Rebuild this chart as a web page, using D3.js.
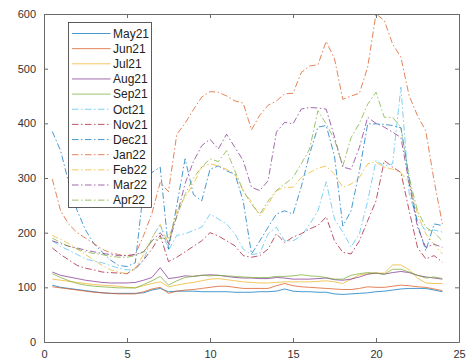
<!DOCTYPE html>
<html>
<head>
<meta charset="utf-8">
<script src="https://cdn.jsdelivr.net/npm/d3@7"></script>
<style>
  body { margin: 0; background: #fff; }
  svg { display: block; font-family: "Liberation Sans", Arial, sans-serif; }
</style>
</head>
<body>
<div id="chart"></div>
<script>
// half-hour readings, x = 0.5 .. 24
const hours = [0.5, 1, 1.5, 2, 2.5, 3, 3.5, 4, 4.5, 5, 5.5, 6, 6.5, 7, 7.5, 8,
  8.5, 9, 9.5, 10, 10.5, 11, 11.5, 12, 12.5, 13, 13.5, 14, 14.5, 15, 15.5, 16,
  16.5, 17, 17.5, 18, 18.5, 19, 19.5, 20, 20.5, 21, 21.5, 22, 22.5, 23, 23.5, 24];

const months = ["May21", "Jun21", "Jul21", "Aug21", "Sep21", "Oct21",
  "Nov21", "Dec21", "Jan22", "Feb22", "Mar22", "Apr22"];

const may21 = [104, 100, 98, 96, 94, 92, 90, 89, 89, 89, 89, 90, 95, 98, 92, 93,
  93, 93, 92, 92, 92, 92, 91, 91, 91, 92, 92, 93, 97, 93, 92, 92,
  91, 91, 88, 87, 88, 89, 90, 92, 93, 95, 97, 98, 98, 98, 95, 92];
const jun21 = [101, 99, 97, 95, 93, 91, 90, 89, 88, 88, 88, 92, 97, 100, 89, 93,
  95, 96, 98, 100, 102, 102, 100, 98, 98, 98, 98, 103, 107, 103, 101, 100,
  99, 98, 97, 96, 96, 98, 101, 100, 100, 102, 104, 103, 101, 100, 97, 94];
const jul21 = [115, 113, 111, 109, 107, 105, 104, 103, 102, 100, 99, 103, 107, 110, 101, 104,
  107, 109, 112, 115, 116, 114, 112, 110, 109, 108, 108, 109, 110, 110, 110, 110,
  111, 112, 110, 107, 115, 123, 125, 126, 126, 141, 141, 132, 117, 108, 107, 107];
const aug21 = [128, 122, 119, 116, 113, 111, 109, 108, 108, 108, 109, 113, 118, 136, 116, 118,
  121, 120, 122, 123, 122, 120, 118, 117, 117, 116, 116, 118, 117, 115, 115, 115,
  116, 117, 114, 113, 115, 119, 124, 126, 124, 127, 129, 127, 122, 119, 117, 115];
const sep21 = [125, 118, 112, 107, 104, 102, 101, 100, 99, 99, 99, 105, 112, 120, 104, 112,
  118, 120, 122, 121, 122, 121, 120, 119, 118, 118, 118, 120, 120, 121, 123, 121,
  120, 118, 115, 115, 122, 125, 127, 126, 124, 133, 133, 128, 122, 117, 119, 116];
const oct21 = [185, 175, 168, 160, 152, 148, 145, 140, 135, 132, 132, 150, 190, 215, 168, 195,
  198, 204, 210, 234, 225, 216, 198, 170, 160, 162, 198, 210, 185, 185, 194, 215,
  240, 293, 225, 201, 174, 198, 258, 332, 322, 326, 466, 271, 222, 204, 205, 201];
const nov21 = [172, 160, 150, 140, 135, 132, 128, 127, 126, 125, 135, 150, 170, 195, 147, 155,
  165, 175, 185, 200, 194, 185, 176, 158, 155, 158, 170, 198, 182, 192, 198, 207,
  213, 229, 185, 164, 161, 185, 222, 258, 332, 320, 310, 240, 173, 152, 158, 146];
const dec21 = [385, 350, 290, 240, 205, 180, 165, 150, 140, 138, 145, 280, 310, 320, 170, 250,
  335, 270, 258, 316, 322, 313, 307, 258, 161, 185, 210, 234, 240, 234, 284, 344,
  393, 396, 340, 212, 240, 313, 399, 399, 398, 396, 392, 300, 215, 167, 216, 213];
const jan22 = [298, 240, 215, 200, 190, 180, 170, 163, 160, 158, 160, 195, 235, 292, 275, 380,
  400, 425, 448, 458, 457, 450, 441, 437, 388, 415, 433, 441, 454, 455, 493, 505,
  507, 550, 518, 444, 450, 455, 503, 600, 588, 545, 521, 450, 414, 386, 295, 216];
const feb22 = [195, 188, 180, 170, 160, 150, 140, 132, 128, 125, 135, 160, 190, 215, 180, 240,
  265, 289, 320, 326, 322, 316, 307, 277, 256, 231, 252, 277, 283, 283, 301, 310,
  318, 322, 307, 283, 289, 301, 326, 329, 320, 316, 310, 290, 234, 198, 179, 161];
const mar22 = [185, 180, 175, 172, 168, 165, 162, 160, 158, 158, 160, 165, 185, 200, 180, 230,
  290, 330, 359, 371, 353, 380, 356, 332, 283, 277, 295, 384, 402, 399, 426, 429,
  428, 426, 375, 320, 316, 356, 411, 400, 393, 384, 374, 290, 210, 173, 179, 173];
const apr22 = [190, 182, 175, 170, 165, 162, 160, 157, 155, 155, 158, 165, 185, 190, 190, 230,
  270, 300, 320, 335, 330, 350, 313, 277, 252, 234, 258, 277, 289, 301, 326, 353,
  423, 399, 370, 322, 374, 400, 435, 457, 411, 411, 393, 300, 240, 210, 200, 185];

const xTicks = [0, 5, 10, 15, 20, 25];
const yTicks = [0, 100, 200, 300, 400, 500, 600];

const seriesValues = [may21, jun21, jul21, aug21, sep21, oct21,
  nov21, dec21, jan22, feb22, mar22, apr22];
const colors = ["#0072BD", "#D95319", "#EDB120", "#7E2F8E", "#77AC30", "#4DBEEE",
  "#A2142F", "#0072BD", "#D95319", "#EDB120", "#7E2F8E", "#77AC30"];
const dashDot = "6.5,2.5,1.5,2.5";

const W = 473, H = 364;
const margin = {top: 14, right: 14, bottom: 22, left: 44};
const width = W - margin.left - margin.right;
const height = H - margin.top - margin.bottom;

const svg = d3.select("#chart").append("svg")
  .attr("width", W)
  .attr("height", H);

const x = d3.scaleLinear().domain([0, 25]).range([0, width]);
const y = d3.scaleLinear().domain([0, 600]).range([height, 0]);

const g = svg.append("g")
  .attr("transform", `translate(${margin.left},${margin.top})`);

// lines
const line = d3.line()
  .x((d, i) => x(hours[i]))
  .y(d => y(d));

const data = months.map((m, i) => ({name: m, values: seriesValues[i], color: colors[i], dashed: i >= 5}));

g.selectAll(".series")
  .data(data)
  .enter().append("path")
  .attr("class", "series")
  .attr("d", d => line(d.values))
  .attr("fill", "none")
  .attr("stroke", d => d.color)
  .attr("stroke-width", 1)
  .attr("stroke-opacity", 0.72)
  .attr("stroke-dasharray", d => d.dashed ? dashDot : null);

// axes, matlab style box with inward ticks
const axisColor = "#6b6b6b";
const tickLen = 4;

function styleAxis(sel) {
  sel.select(".domain").attr("stroke", axisColor);
  sel.selectAll(".tick line").attr("stroke", axisColor);
  sel.selectAll(".tick text").attr("fill", "#333").style("font-size", "11px")
    .style("font-family", '"Liberation Sans", Arial, sans-serif');
}

g.append("g")
  .attr("transform", `translate(0,${height})`)
  .call(d3.axisBottom(x).tickValues(xTicks).tickSizeInner(-tickLen).tickSizeOuter(0).tickPadding(8))
  .call(styleAxis);

g.append("g")
  .call(d3.axisLeft(y).tickValues(yTicks).tickSizeInner(-tickLen).tickSizeOuter(0).tickPadding(8))
  .call(styleAxis);

g.append("g")
  .call(d3.axisTop(x).tickValues(xTicks).tickSizeInner(-tickLen).tickSizeOuter(0).tickFormat(""))
  .call(styleAxis);

g.append("g")
  .attr("transform", `translate(${width},0)`)
  .call(d3.axisRight(y).tickValues(yTicks).tickSizeInner(-tickLen).tickSizeOuter(0).tickFormat(""))
  .call(styleAxis);

// legend
const legX = 24.5, legY = 8.5, legW = 83, legH = 185, rowH = 15.15;
const legend = g.append("g").attr("transform", `translate(${legX},${legY})`);

legend.append("rect")
  .attr("width", legW)
  .attr("height", legH)
  .attr("fill", "#fff")
  .attr("stroke", "#333")
  .attr("stroke-width", 0.8);

const item = legend.selectAll(".item")
  .data(data)
  .enter().append("g")
  .attr("class", "item")
  .attr("transform", (d, i) => `translate(0,${11 + i * rowH})`);

item.append("line")
  .attr("x1", 3.5).attr("x2", 42)
  .attr("stroke", d => d.color)
  .attr("stroke-opacity", 0.72)
  .attr("stroke-width", 1)
  .attr("stroke-dasharray", d => d.dashed ? dashDot : null);

item.append("text")
  .attr("x", 44.5)
  .attr("dy", "0.36em")
  .attr("fill", "#222")
  .style("font-size", "12px")
  .text(d => d.name);
</script>
</body>
</html>
